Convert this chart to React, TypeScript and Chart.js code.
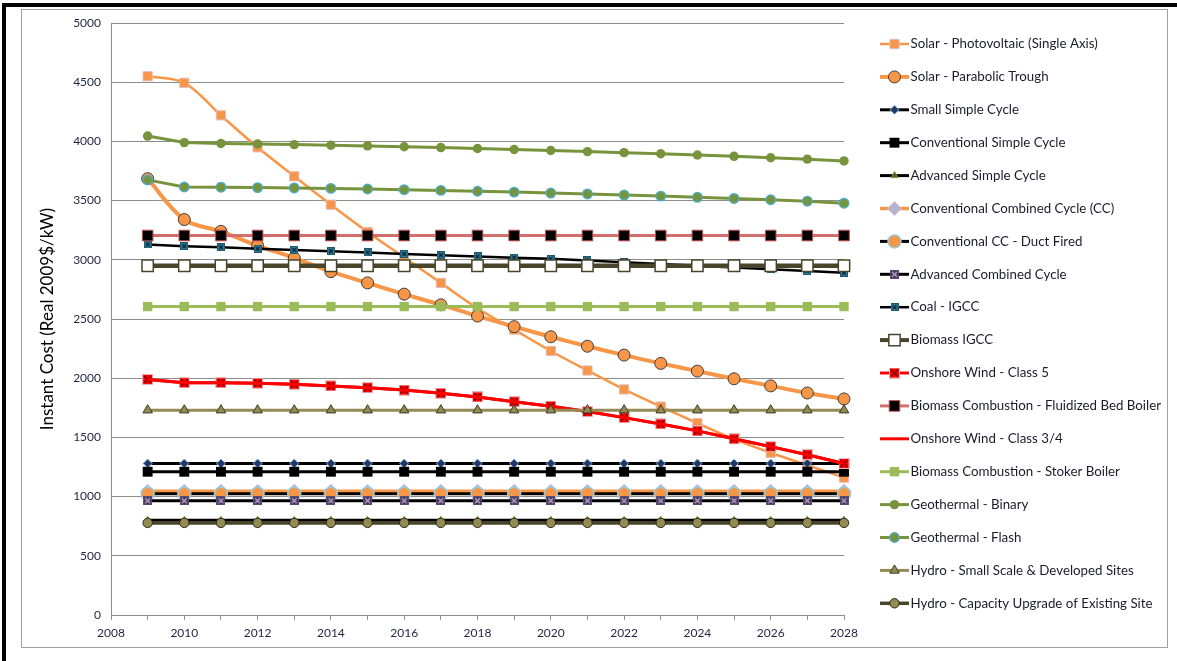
import React, { useEffect, useRef } from 'react';
import { Chart, registerables } from 'chart.js';

Chart.register(...registerables);

const years = [2009, 2010, 2011, 2012, 2013, 2014, 2015, 2016, 2017, 2018, 2019, 2020, 2021, 2022, 2023, 2024, 2025, 2026, 2027, 2028];

const seriesNames = [
  'Solar - Photovoltaic (Single Axis)',
  'Solar - Parabolic Trough',
  'Small Simple Cycle',
  'Conventional Simple Cycle',
  'Advanced Simple Cycle',
  'Conventional Combined Cycle (CC)',
  'Conventional CC - Duct Fired',
  'Advanced Combined Cycle',
  'Coal - IGCC',
  'Biomass IGCC',
  'Onshore Wind - Class 5',
  'Biomass Combustion - Fluidized Bed Boiler',
  'Onshore Wind - Class 3/4',
  'Biomass Combustion - Stoker Boiler',
  'Geothermal - Binary',
  'Geothermal - Flash',
  'Hydro - Small Scale & Developed Sites',
  'Hydro - Capacity Upgrade of Existing Site',
];

const solarPV = [4550, 4495, 4220, 3950, 3705, 3465, 3235, 3020, 2805, 2590, 2410, 2230, 2065, 1905, 1760, 1620, 1485, 1370, 1265, 1160];
const solarTrough = [3685, 3340, 3240, 3120, 3015, 2900, 2805, 2710, 2620, 2525, 2435, 2350, 2270, 2195, 2125, 2060, 1995, 1935, 1875, 1825];
const smallSimpleCycle = [1280, 1280, 1280, 1280, 1280, 1280, 1280, 1280, 1280, 1280, 1280, 1280, 1280, 1280, 1280, 1280, 1280, 1280, 1280, 1280];
const convSimpleCycle = [1210, 1210, 1210, 1210, 1210, 1210, 1210, 1210, 1210, 1210, 1210, 1210, 1210, 1210, 1210, 1210, 1210, 1210, 1210, 1210];
const advSimpleCycle = [800, 800, 800, 800, 800, 800, 800, 800, 800, 800, 800, 800, 800, 800, 800, 800, 800, 800, 800, 800];
const convCombinedCycle = [1045, 1045, 1045, 1045, 1045, 1045, 1045, 1045, 1045, 1045, 1045, 1045, 1045, 1045, 1045, 1045, 1045, 1045, 1045, 1045];
const convCCDuctFired = [1025, 1025, 1025, 1025, 1025, 1025, 1025, 1025, 1025, 1025, 1025, 1025, 1025, 1025, 1025, 1025, 1025, 1025, 1025, 1025];
const advCombinedCycle = [965, 965, 965, 965, 965, 965, 965, 965, 965, 965, 965, 965, 965, 965, 965, 965, 965, 965, 965, 965];
const coalIGCC = [3130, 3115, 3105, 3093, 3083, 3073, 3062, 3050, 3039, 3028, 3018, 3008, 2995, 2980, 2965, 2950, 2935, 2920, 2905, 2890];
const biomassIGCC = [2950, 2950, 2950, 2950, 2950, 2950, 2950, 2950, 2950, 2950, 2950, 2950, 2950, 2950, 2950, 2950, 2950, 2950, 2950, 2950];
const windClass5 = [1990, 1962, 1962, 1958, 1949, 1935, 1920, 1900, 1873, 1842, 1802, 1764, 1718, 1667, 1614, 1555, 1488, 1422, 1354, 1280];
const biomassFluidized = [3205, 3205, 3205, 3205, 3205, 3205, 3205, 3205, 3205, 3205, 3205, 3205, 3205, 3205, 3205, 3205, 3205, 3205, 3205, 3205];
const windClass34 = [1990, 1962, 1962, 1958, 1949, 1935, 1920, 1900, 1873, 1842, 1802, 1764, 1718, 1667, 1614, 1555, 1488, 1422, 1354, 1280];
const biomassStoker = [2605, 2605, 2605, 2605, 2605, 2605, 2605, 2605, 2605, 2605, 2605, 2605, 2605, 2605, 2605, 2605, 2605, 2605, 2605, 2605];
const geoBinary = [4045, 3990, 3982, 3978, 3973, 3968, 3962, 3955, 3948, 3940, 3932, 3923, 3914, 3905, 3896, 3885, 3874, 3862, 3850, 3835];
const geoFlash = [3675, 3615, 3613, 3610, 3607, 3603, 3598, 3592, 3586, 3579, 3572, 3564, 3556, 3547, 3538, 3528, 3518, 3507, 3495, 3478];
const hydroSmall = [1730, 1730, 1730, 1730, 1730, 1730, 1730, 1730, 1730, 1730, 1730, 1730, 1730, 1730, 1730, 1730, 1730, 1730, 1730, 1730];
const hydroUpgrade = [778, 778, 778, 778, 778, 778, 778, 778, 778, 778, 778, 778, 778, 778, 778, 778, 778, 778, 778, 778];

const xTicks = [2008, 2010, 2012, 2014, 2016, 2018, 2020, 2022, 2024, 2026, 2028];
const yMin = 0;
const yMax = 5000;
const yStep = 500;
const yTitle = 'Instant Cost (Real 2009$/kW)';

const FONT = 'Lato, "Open Sans", sans-serif';
const LEGEND_FONT_SIZE = 13.3;
const LEGEND_BOX = 60;
const LEGEND_PAD = 19.6;
const LEGEND_TEXT_X = 910.5;

function makeXSquare(size: number, fill: string, border: string, cross: string, crossWidth: number) {
  const c = document.createElement('canvas');
  c.width = size;
  c.height = size;
  const g = c.getContext('2d') as CanvasRenderingContext2D;
  g.fillStyle = fill;
  g.fillRect(0, 0, size, size);
  g.strokeStyle = border;
  g.lineWidth = 1;
  g.strokeRect(0.5, 0.5, size - 1, size - 1);
  g.strokeStyle = cross;
  g.lineWidth = crossWidth;
  g.beginPath();
  g.moveTo(2, 2);
  g.lineTo(size - 2, size - 2);
  g.moveTo(size - 2, 2);
  g.lineTo(2, size - 2);
  g.stroke();
  return c;
}

function drawMarker(ctx: CanvasRenderingContext2D, ds: any, x: number, y: number) {
  const style = ds.pointStyle;
  const r = ds.pointRadius;
  if (!r) return;
  if (style && typeof style !== 'string') {
    ctx.drawImage(style, x - style.width / 2, y - style.height / 2);
    return;
  }
  ctx.beginPath();
  if (style === 'circle') {
    ctx.arc(x, y, r, 0, Math.PI * 2);
  } else if (style === 'rect') {
    const s = r * Math.SQRT1_2;
    ctx.rect(x - s, y - s, 2 * s, 2 * s);
  } else if (style === 'rectRot') {
    ctx.moveTo(x, y - r);
    ctx.lineTo(x + r, y);
    ctx.lineTo(x, y + r);
    ctx.lineTo(x - r, y);
    ctx.closePath();
  } else if (style === 'triangle') {
    let a = 0;
    ctx.moveTo(x + Math.sin(a) * r, y - Math.cos(a) * r);
    a += (Math.PI * 2) / 3;
    ctx.lineTo(x + Math.sin(a) * r, y - Math.cos(a) * r);
    a += (Math.PI * 2) / 3;
    ctx.lineTo(x + Math.sin(a) * r, y - Math.cos(a) * r);
    ctx.closePath();
  }
  ctx.fillStyle = ds.pointBackgroundColor;
  ctx.fill();
  if (ds.pointBorderWidth) {
    ctx.lineWidth = ds.pointBorderWidth;
    ctx.strokeStyle = ds.pointBorderColor;
    ctx.stroke();
  }
}

const legendSamples = {
  id: 'legendSamples',
  afterLayout(chart: any) {
    const lg = chart.legend;
    if (!lg) return;
    lg.left = LEGEND_TEXT_X - LEGEND_FONT_SIZE / 2 - LEGEND_BOX - LEGEND_PAD;
    lg.right = 1177;
    lg.width = lg.right - lg.left;
    lg.top = 44 - LEGEND_FONT_SIZE / 2 - LEGEND_PAD;
    lg.bottom = 661;
    lg.height = lg.bottom - lg.top;
  },
  afterDraw(chart: any) {
    const lg = chart.legend;
    if (!lg || !lg.legendHitBoxes) return;
    const ctx = chart.ctx as CanvasRenderingContext2D;
    lg.legendHitBoxes.forEach((hb: any, i: number) => {
      const item = lg.legendItems[i];
      const ds = chart.data.datasets[item.datasetIndex];
      const cy = hb.top + hb.height / 2;
      const x1 = hb.left + LEGEND_BOX + LEGEND_FONT_SIZE / 2 - 1.5;
      const x0 = x1 - 29;
      ctx.save();
      ctx.strokeStyle = ds.borderColor;
      ctx.lineWidth = Math.min(ds.borderWidth, 4);
      ctx.beginPath();
      ctx.moveTo(x0, cy);
      ctx.lineTo(x1, cy);
      ctx.stroke();
      drawMarker(ctx, ds, (x0 + x1) / 2, cy);
      ctx.restore();
    });
  },
};

export default function App() {
  const canvasRef = useRef<HTMLCanvasElement | null>(null);

  useEffect(() => {
    if (!canvasRef.current) return;

    const advCCMarker = makeXSquare(9, '#403152', '#604A7B', '#B3A2C7', 1.5);
    const coalMarker = makeXSquare(8, '#31859C', '#205867', '#0F243E', 1.5);
    const windMarker = makeXSquare(11, '#FF0000', '#E6B9B8', '#7F0000', 1.5);

    const values = [
      solarPV, solarTrough, smallSimpleCycle, convSimpleCycle, advSimpleCycle,
      convCombinedCycle, convCCDuctFired, advCombinedCycle, coalIGCC, biomassIGCC,
      windClass5, biomassFluidized, windClass34, biomassStoker, geoBinary, geoFlash,
      hydroSmall, hydroUpgrade,
    ];

    const styles: any[] = [
      { borderColor: '#F79646', borderWidth: 2.5, pointStyle: 'rect', pointRadius: 6.5, pointBackgroundColor: '#F79646', pointBorderColor: '#E6B9B8', pointBorderWidth: 1, tension: 0.35 },
      { borderColor: '#F79646', borderWidth: 4, pointStyle: 'circle', pointRadius: 6, pointBackgroundColor: '#F79646', pointBorderColor: '#3F3F3F', pointBorderWidth: 1, tension: 0.35 },
      { borderColor: '#000000', borderWidth: 3, pointStyle: 'rectRot', pointRadius: 4.5, pointBackgroundColor: '#1F3864', pointBorderColor: '#8DB4E2', pointBorderWidth: 1 },
      { borderColor: '#000000', borderWidth: 3, pointStyle: 'rect', pointRadius: 7, pointBackgroundColor: '#000000', pointBorderColor: '#000000', pointBorderWidth: 0 },
      { borderColor: '#000000', borderWidth: 3, pointStyle: 'triangle', pointRadius: 4, pointBackgroundColor: '#4F6228', pointBorderColor: '#77933C', pointBorderWidth: 1 },
      { borderColor: '#F79646', borderWidth: 3.5, pointStyle: 'rectRot', pointRadius: 7, pointBackgroundColor: '#B7B3CA', pointBorderColor: '#CCC0DA', pointBorderWidth: 1 },
      { borderColor: '#000000', borderWidth: 3, pointStyle: 'circle', pointRadius: 6.5, pointBackgroundColor: '#F79646', pointBorderColor: '#93CDDD', pointBorderWidth: 1.5 },
      { borderColor: '#000000', borderWidth: 3, pointStyle: advCCMarker, pointRadius: 5, pointBackgroundColor: '#403152', pointBorderColor: '#604A7B', pointBorderWidth: 1 },
      { borderColor: '#000000', borderWidth: 2.5, pointStyle: coalMarker, pointRadius: 5, pointBackgroundColor: '#31859C', pointBorderColor: '#205867', pointBorderWidth: 1 },
      { borderColor: '#4A452A', borderWidth: 4.5, pointStyle: 'rect', pointRadius: 8, pointBackgroundColor: '#FFFFFF', pointBorderColor: '#4A452A', pointBorderWidth: 1.5 },
      { borderColor: '#FF0000', borderWidth: 3, pointStyle: windMarker, pointRadius: 6, pointBackgroundColor: '#FF0000', pointBorderColor: '#7F0000', pointBorderWidth: 1 },
      { borderColor: '#D26E6B', borderWidth: 3, pointStyle: 'rect', pointRadius: 7.5, pointBackgroundColor: '#000000', pointBorderColor: '#C0504D', pointBorderWidth: 1 },
      { borderColor: '#FF0000', borderWidth: 3, pointStyle: 'circle', pointRadius: 0, pointBackgroundColor: '#FF0000', pointBorderColor: '#FF0000', pointBorderWidth: 0 },
      { borderColor: '#9BBB59', borderWidth: 3, pointStyle: 'rect', pointRadius: 6.6, pointBackgroundColor: '#9BBB59', pointBorderColor: '#9BBB59', pointBorderWidth: 0 },
      { borderColor: '#77933C', borderWidth: 3, pointStyle: 'circle', pointRadius: 4.7, pointBackgroundColor: '#77933C', pointBorderColor: '#77933C', pointBorderWidth: 0 },
      { borderColor: '#77933C', borderWidth: 3, pointStyle: 'circle', pointRadius: 4.7, pointBackgroundColor: '#77933C', pointBorderColor: '#4BACC6', pointBorderWidth: 1.5 },
      { borderColor: '#948A54', borderWidth: 3, pointStyle: 'triangle', pointRadius: 5.5, pointBackgroundColor: '#948A54', pointBorderColor: '#3F3A24', pointBorderWidth: 1 },
      { borderColor: '#4A452A', borderWidth: 3.5, pointStyle: 'circle', pointRadius: 4.7, pointBackgroundColor: '#948A54', pointBorderColor: '#2B2816', pointBorderWidth: 1 },
    ];

    const n = seriesNames.length;
    const datasets = seriesNames.map((name, i) => ({
      label: name,
      data: years.map((yr, j) => ({ x: yr, y: values[i][j] })),
      fill: false,
      clip: false as any,
      order: n - i,
      pointHoverRadius: styles[i].pointRadius,
      ...styles[i],
    }));

    const chart = new Chart(canvasRef.current, {
      type: 'line',
      data: { datasets },
      plugins: [legendSamples],
      options: {
        animation: false,
        responsive: false,
        maintainAspectRatio: false,
        layout: { padding: { top: 23, bottom: 12, left: 0, right: 0 } },
        plugins: {
          tooltip: { enabled: false },
          legend: {
            display: true,
            position: 'right',
            align: 'start',
            maxWidth: 333,
            labels: {
              boxWidth: LEGEND_BOX,
              boxHeight: LEGEND_FONT_SIZE,
              padding: LEGEND_PAD,
              color: '#1b1b2b',
              font: { family: FONT, size: LEGEND_FONT_SIZE },
              sort: (a: any, b: any) => a.datasetIndex - b.datasetIndex,
              generateLabels: (c: any) =>
                (Chart.defaults.plugins.legend.labels.generateLabels as any)(c).map((l: any) => ({
                  ...l,
                  fillStyle: 'rgba(0,0,0,0)',
                  strokeStyle: 'rgba(0,0,0,0)',
                  lineWidth: 0,
                })),
            },
          },
        },
        scales: {
          x: {
            type: 'linear',
            min: xTicks[0],
            max: xTicks[xTicks.length - 1],
            afterFit: (s: any) => { s.height = 34; },
            ticks: {
              stepSize: 1,
              autoSkip: false,
              maxRotation: 0,
              padding: 6,
              color: '#1F2440',
              font: { family: FONT, size: 12 },
              callback: (v: any) => (xTicks.includes(Number(v)) ? String(v) : ''),
            },
            grid: { display: true, drawOnChartArea: false, drawTicks: true, tickLength: 5, color: '#8c8c8c' },
            border: { display: true, color: '#8c8c8c', width: 1 },
          },
          y: {
            type: 'linear',
            min: yMin,
            max: yMax,
            afterFit: (s: any) => { s.width = 111; },
            ticks: {
              stepSize: yStep,
              padding: 10,
              color: '#1F2440',
              font: { family: FONT, size: 12 },
              callback: (v: any) => String(v),
            },
            grid: { color: '#8c8c8c', drawTicks: false },
            border: { display: true, color: '#8c8c8c', width: 1 },
            title: {
              display: true,
              text: yTitle,
              color: '#000000',
              font: { family: FONT, size: 17 },
              padding: { top: 37, bottom: 0 },
            },
          },
        },
      } as any,
    });

    return () => chart.destroy();
  }, []);

  return (
    <div style={{ position: 'absolute', left: 0, top: 0, width: 1177, height: 661, background: '#ffffff', overflow: 'hidden' }}>
      <div style={{ position: 'absolute', left: 2, top: 3, right: 0, bottom: 0, borderTop: '4px solid #000', borderLeft: '4px solid #000' }} />
      <div style={{ position: 'absolute', left: 21, top: 9, width: 1147, height: 639, border: '1px solid #a0a0a0', boxSizing: 'border-box' }} />
      <canvas ref={canvasRef} width={1177} height={661} style={{ position: 'absolute', left: 0, top: 0, width: 1177, height: 661 }} />
    </div>
  );
}
